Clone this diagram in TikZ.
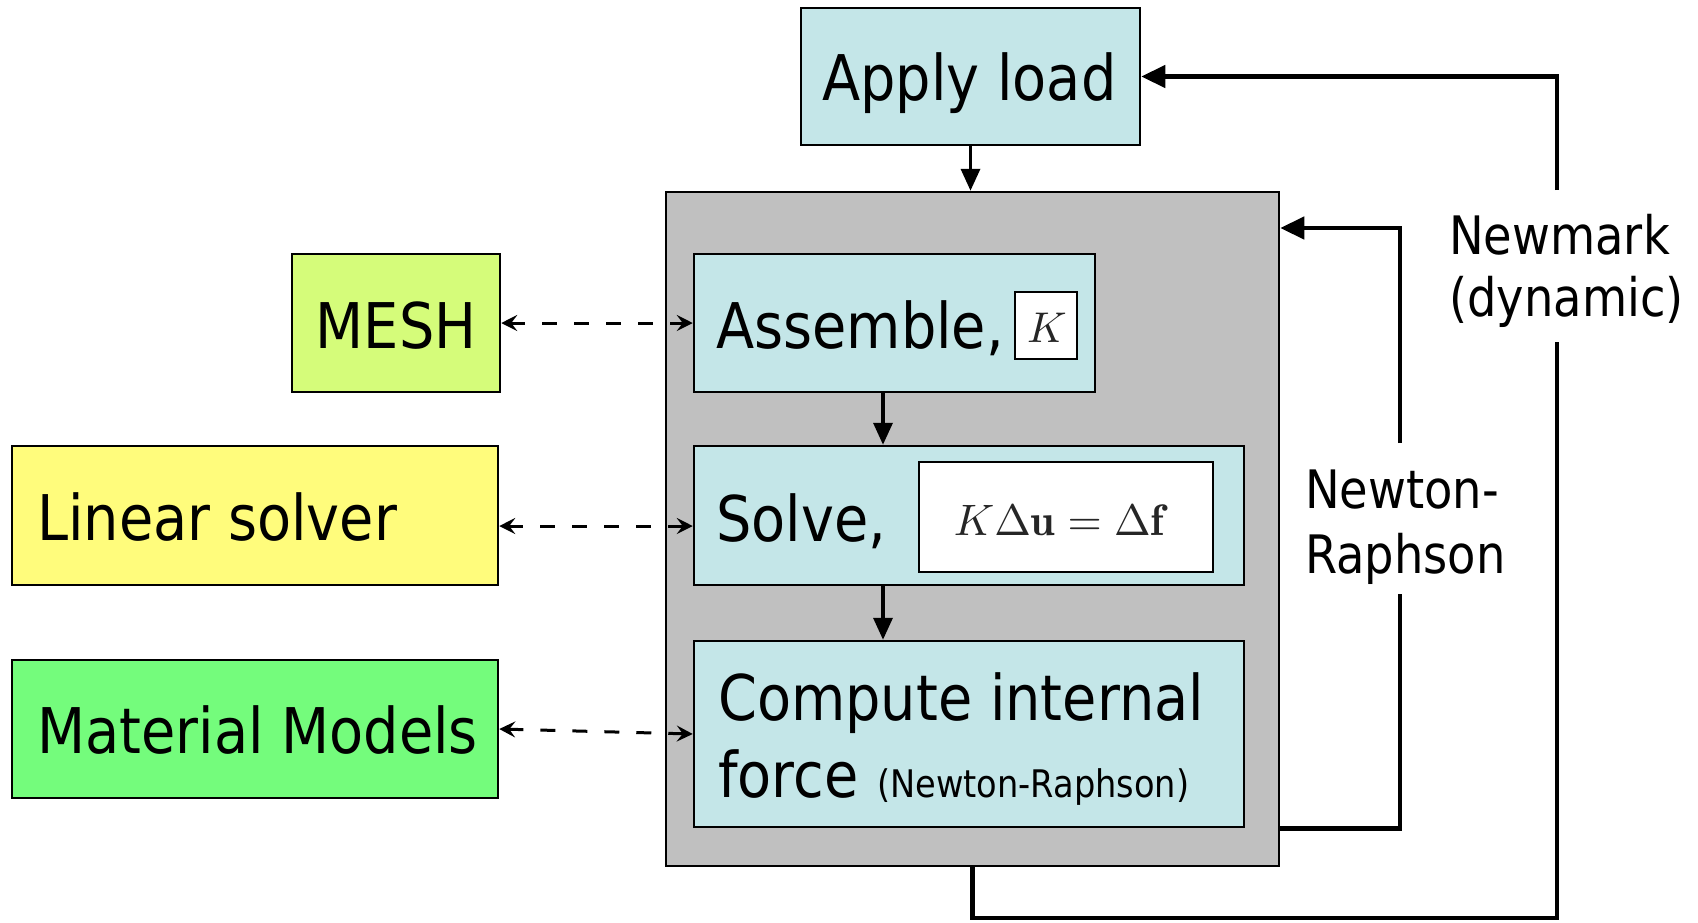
\documentclass[tikz,border=0pt]{standalone}
\usepackage{graphicx}
\usepackage{fontspec}
\usetikzlibrary{arrows.meta}
\newfontfamily\boxfont[FakeStretch=0.885]{DejaVu Sans}
\newfontfamily\lblfont[FakeStretch=0.875]{DejaVu Sans}
\definecolor{cyanbox}{HTML}{C4E6E8}
\definecolor{grayback}{HTML}{C0C0C0}
\definecolor{meshgreen}{HTML}{D5FC7A}
\definecolor{solveryellow}{HTML}{FFFC7C}
\definecolor{matgreen}{HTML}{74FC7C}
\begin{document}
\begin{tikzpicture}[x=1pt,y=-1pt,
  box/.style={draw=black, line width=2.5pt, inner sep=0pt, rectangle},
  bigtext/.style={anchor=base west, inner sep=0pt, font=\boxfont\fontsize{63}{63}\selectfont},
  lbltext/.style={anchor=base west, inner sep=0pt, font=\lblfont\fontsize{53}{53}\selectfont},
  flow/.style={line width=3.5pt, -{Triangle[length=22pt,width=19pt]}},
  loopline/.style={line width=4.5pt},
  looparrow/.style={line width=4.5pt, -{Triangle[length=24pt,width=22pt]}},
  dasharrow/.style={line width=3pt, dash pattern=on 15pt off 17pt,
    {Stealth[length=16pt,width=16pt,inset=6pt]}-{Stealth[length=16pt,width=16pt,inset=6pt]}}
]
\useasboundingbox (0,0) rectangle (1698,922);

% main boxes
\node[box, fill=cyanbox, minimum width=339pt, minimum height=137pt] (apply) at (970.5,76.5) {};
\node[box, fill=grayback, minimum width=613pt, minimum height=674pt] (gray) at (972.5,529) {};
\node[box, fill=cyanbox, minimum width=401pt, minimum height=138pt] (assemble) at (894.5,323) {};
\node[box, fill=white, line width=2pt, minimum width=62pt, minimum height=67pt] (kbox) at (1046,325.5) {};
\node[inner sep=0pt, anchor=base, text=black!85] (kt) at (1047,342)
  {\scalebox{4.3}{$K$}};
\node[box, fill=cyanbox, minimum width=550pt, minimum height=139pt] (solve) at (969,515.5) {};
\node[box, fill=white, minimum width=294pt, minimum height=110pt] (mathbox) at (1066,517) {};
\node[inner sep=0pt, anchor=base, text=black!85] (matht) at (1059,535)
  {\scalebox{4.4}{$K\Delta\mathbf{u}=\Delta\mathbf{f}$}};
\node[box, fill=cyanbox, minimum width=550pt, minimum height=186pt] (compute) at (969,734) {};

% side boxes
\node[box, fill=meshgreen, minimum width=208pt, minimum height=138pt] (mesh) at (396,323) {};
\node[box, fill=solveryellow, minimum width=486pt, minimum height=139pt] (linsolve) at (255,515.5) {};
\node[box, fill=matgreen, minimum width=486pt, minimum height=138pt] (material) at (255,729) {};

% texts
\node[bigtext] (applyt) at (822,100) {Apply load};
\node[bigtext] (assemblet) at (716,348) {Assemble,};
\node[bigtext] (solvet) at (716,541) {Solve,};
\node[bigtext] (computet) at (718,720) {Compute internal};
\node[bigtext] (forcet) at (718,797) {force};
\node[anchor=base west, inner sep=0pt, font=\boxfont\fontsize{38}{38}\selectfont] (nrsmall) at (877,797) {(Newton-Raphson)};
\node[bigtext, anchor=base] (mesht) at (396,348) {MESH};
\node[bigtext] (linsolvet) at (37,540) {Linear solver};
\node[bigtext] (materialt) at (37,753) {Material Models};
\node[lbltext] (nr1) at (1305,508) {Newton-};
\node[lbltext] (nr2) at (1305,573) {Raphson};
\node[lbltext] (nm1) at (1449,254) {Newmark};
\node[lbltext] (nm2) at (1449,316) {(dynamic)};

% helper coordinates
\coordinate (ax) at (883,0);
\coordinate (lsy) at (0,526);
\coordinate (nrlow) at (1400,594);
\coordinate (nrhigh) at (1400,443);
\coordinate (nry) at (0,228);
\coordinate (nmy) at (0,918);
\coordinate (nmlow) at (1557,342);
\coordinate (nmhigh) at (1557,190);

% flow arrows
\draw[flow] (apply.south) -- (apply.south |- gray.north);
\draw[flow] (assemble.south -| ax) -- (solve.north -| ax);
\draw[flow] (solve.south -| ax) -- (compute.north -| ax);

% dashed links
\draw[dasharrow] (mesh.east) -- (assemble.west);
\draw[dasharrow] (linsolve.east |- lsy) -- (solve.west |- lsy);
\draw[dasharrow] (material.east) -- (compute.west);

% Newton-Raphson loop
\draw[loopline] (gray.east |- compute.south) -| (nrlow);
\draw[looparrow] (nrhigh) |- (gray.east |- nry);

% Newmark loop
\draw[loopline] (gray.south) -- (gray.south |- nmy) -| (nmlow);
\draw[looparrow] (nmhigh) |- (apply.east);
\end{tikzpicture}
\end{document}
